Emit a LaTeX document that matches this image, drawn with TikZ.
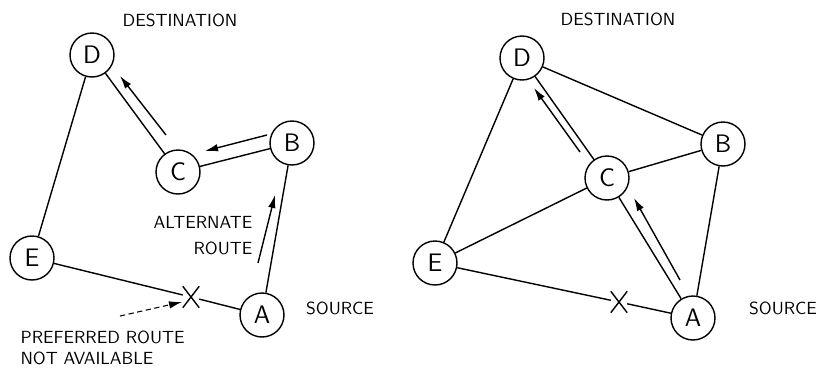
\documentclass[tikz,border=0pt]{standalone}
\usepackage{tikz}
\usetikzlibrary{arrows.meta, shapes.misc}

\tikzset{
  router/.style={circle, draw, minimum size=0.88cm, inner sep=0pt, font=\Large\sffamily},
  tag/.style={font=\sffamily},
  broken/.style={cross out, draw, inner sep=0pt, minimum width=0.3cm, minimum height=0.4cm},
  route/.style={-{Latex[length=2.6mm, width=1.5mm]}}
}

\begin{document}
\begin{tikzpicture}[x=0.02cm, y=-0.02cm, line width=0.8pt]
        \useasboundingbox (0,0) rectangle (835,373);

        % left network: preferred route broken
        \node [router] (D1) at (92,55) {D};
        \node [router] (C1) at (178,172) {C};
        \node [router] (B1) at (292,143) {B};
        \node [router] (E1) at (32,258) {E};
        \node [router] (A1) at (262,315) {A};
        \node [broken] (X1) at (191,297) {};

        \node [tag] (dst1) at (180,20) {DESTINATION};
        \node [tag] (src1) at (340,308) {SOURCE};
        \node [tag] (alt1) at (203,222) {ALTERNATE};
        \node [tag] (alt2) at (223,248) {ROUTE};
        \node [tag, anchor=west] (pref1) at (14,337) {PREFERRED ROUTE};
        \node [tag, anchor=west] (pref2) at (14,358) {NOT AVAILABLE};

        \draw (D1) -- (E1);
        \draw (D1) -- (C1);
        \draw (C1) -- (B1);
        \draw (B1) -- (A1);
        \draw (E1) -- (X1) -- (A1);

        \coordinate (ab1) at (258,263);
        \coordinate (ab2) at (275,195);
        \coordinate (bc1) at (267,135);
        \coordinate (bc2) at (205,151);
        \coordinate (cd1) at (166,135);
        \coordinate (cd2) at (120,76);
        \coordinate (pr1) at (120,316);
        \coordinate (pr2) at (182,302);
        \draw [route] (ab1) -- (ab2);
        \draw [route] (bc1) -- (bc2);
        \draw [route] (cd1) -- (cd2);
        \draw [route, densely dashed, line width=0.6pt] (pr1) -- (pr2);

        % right network: rerouted through C
        \node [router] (D2) at (522,58) {D};
        \node [router] (C2) at (607,178) {C};
        \node [router] (B2) at (723,144) {B};
        \node [router] (E2) at (435,263) {E};
        \node [router] (A2) at (693,318) {A};
        \node [broken] (X2) at (619,302) {};

        \node [tag] (dst2) at (618,19) {DESTINATION};
        \node [tag] (src2) at (783,308) {SOURCE};

        \draw (D2) -- (E2);
        \draw (D2) -- (B2);
        \draw (D2) -- (C2);
        \draw (C2) -- (B2);
        \draw (C2) -- (E2);
        \draw (C2) -- (A2);
        \draw (B2) -- (A2);
        \draw (E2) -- (X2) -- (A2);

        \coordinate (ac1) at (680,280);
        \coordinate (ac2) at (634,198);
        \coordinate (cd3) at (580,152);
        \coordinate (cd4) at (534,88);
        \draw [route] (ac1) -- (ac2);
        \draw [route] (cd3) -- (cd4);
\end{tikzpicture}
\end{document}
